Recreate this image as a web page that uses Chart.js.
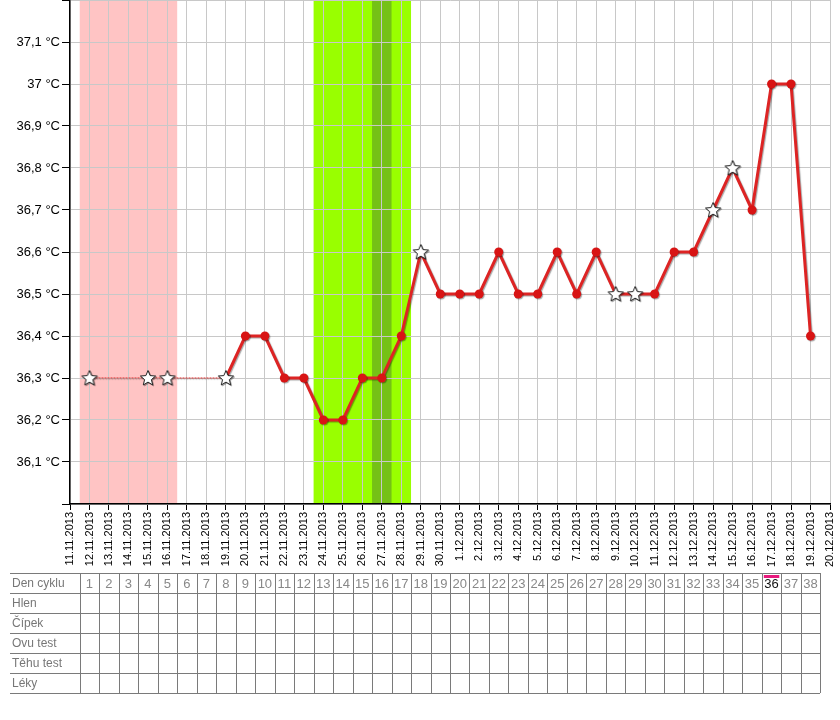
<!DOCTYPE html>
<html>
<head>
<meta charset="utf-8">
<script src="https://cdn.jsdelivr.net/npm/chart.js@4.4.0/dist/chart.umd.min.js"></script>
<style>
    body { margin: 0; background: #fff; }
    #wrap { position: relative; width: 840px; height: 720px; }
</style>
</head>
<body>
<div id="wrap"><canvas id="bbt" width="840" height="720"></canvas></div>
<script>
// dates on the x axis (one column per day)
const dates = [
    '11.11.2013', '12.11.2013', '13.11.2013', '14.11.2013', '15.11.2013', '16.11.2013',
    '17.11.2013', '18.11.2013', '19.11.2013', '20.11.2013', '21.11.2013', '22.11.2013',
    '23.11.2013', '24.11.2013', '25.11.2013', '26.11.2013', '27.11.2013', '28.11.2013',
    '29.11.2013', '30.11.2013', '1.12.2013', '2.12.2013', '3.12.2013', '4.12.2013',
    '5.12.2013', '6.12.2013', '7.12.2013', '8.12.2013', '9.12.2013', '10.12.2013',
    '11.12.2013', '12.12.2013', '13.12.2013', '14.12.2013', '15.12.2013', '16.12.2013',
    '17.12.2013', '18.12.2013', '19.12.2013', '20.12.2013'
];

// measured temperatures (null = no measurement)
const temps = [
    null, 36.3, null, null, 36.3, 36.3, null, null, 36.3, 36.4,
    36.4, 36.3, 36.3, 36.2, 36.2, 36.3, 36.3, 36.4, 36.6, 36.5,
    36.5, 36.5, 36.6, 36.5, 36.5, 36.6, 36.5, 36.6, 36.5, 36.5,
    36.5, 36.6, 36.6, 36.7, 36.8, 36.7, 37.0, 37.0, 36.4, null
];

// days marked with a star
const starDays = ['12.11.2013', '15.11.2013', '16.11.2013', '19.11.2013', '29.11.2013',
    '9.12.2013', '10.12.2013', '14.12.2013', '15.12.2013'];

// background bands
const periodRange = ['12.11.2013', '16.11.2013'];
const fertileRange = ['24.11.2013', '28.11.2013'];
const ovulationDay = '27.11.2013';

// table under the chart
const rowNames = ['Den cyklu', 'Hlen', 'Čípek', 'Ovu test', 'Těhu test', 'Léky'];
const cycleDays = [1, 2, 3, 4, 5, 6, 7, 8, 9, 10, 11, 12, 13, 14, 15, 16, 17, 18, 19,
    20, 21, 22, 23, 24, 25, 26, 27, 28, 29, 30, 31, 32, 33, 34, 35, 36, 37, 38];
const firstCycleDate = '12.11.2013';
const todayCycleDay = 36;

// star marker image
function makeStar() {
    const c = document.createElement('canvas');
    c.width = 20; c.height = 20;
    const g = c.getContext('2d');
    g.beginPath();
    for (let i = 0; i < 10; i++) {
        const r = i % 2 === 0 ? 8 : 3.6;
        const a = -Math.PI / 2 + i * Math.PI / 5;
        const px = 10 + r * Math.cos(a), py = 10.5 + r * Math.sin(a);
        if (i === 0) g.moveTo(px, py); else g.lineTo(px, py);
    }
    g.closePath();
    g.fillStyle = '#fff';
    g.fill();
    g.lineWidth = 1;
    g.strokeStyle = '#222';
    g.stroke();
    return c;
}
const starImg = makeStar();

const pointStyles = dates.map(d => starDays.includes(d) ? starImg : 'circle');
const firstSolid = dates.indexOf('19.11.2013');

const bandsPlugin = {
    id: 'bands',
    beforeDraw(chart) {
        const { ctx, chartArea: a, scales: { x } } = chart;
        const half = (x.getPixelForValue(1) - x.getPixelForValue(0)) / 2;
        const band = (from, to, color) => {
            const x0 = x.getPixelForValue(dates.indexOf(from)) - half;
            const x1 = x.getPixelForValue(dates.indexOf(to)) + half;
            ctx.fillStyle = color;
            ctx.fillRect(x0, a.top, x1 - x0, a.bottom - a.top);
        };
        ctx.save();
        band(periodRange[0], periodRange[1], '#ffc4c4');
        band(fertileRange[0], fertileRange[1], '#99ff00');
        band(ovulationDay, ovulationDay, '#75c116');
        ctx.restore();
    }
};

const shadowPlugin = {
    id: 'lineShadow',
    beforeDatasetsDraw(chart) {
        const ctx = chart.ctx;
        ctx.save();
        ctx.shadowColor = 'rgba(0,0,0,0.35)';
        ctx.shadowOffsetX = 1;
        ctx.shadowOffsetY = 1;
        ctx.shadowBlur = 1;
    },
    afterDatasetsDraw(chart) {
        chart.ctx.restore();
    }
};

const tablePlugin = {
    id: 'cycleTable',
    afterDraw(chart) {
        const { ctx, scales: { x } } = chart;
        const half = (x.getPixelForValue(1) - x.getPixelForValue(0)) / 2;
        const top = 573, rowH = 20, left = 10;
        const start = dates.indexOf(firstCycleDate);
        const colX = i => x.getPixelForValue(start + i);
        const right = Math.round(colX(cycleDays.length - 1) + half);
        const bottom = top + rowH * rowNames.length;
        ctx.save();
        ctx.strokeStyle = '#7a7a7a';
        ctx.lineWidth = 1;
        ctx.beginPath();
        for (let r = 0; r <= rowNames.length; r++) {
            const y = top + r * rowH + 0.5;
            ctx.moveTo(left, y);
            ctx.lineTo(right, y);
        }
        for (let i = 0; i <= cycleDays.length; i++) {
            const xx = Math.round(colX(i) - half) + 0.5;
            ctx.moveTo(xx, top);
            ctx.lineTo(xx, bottom);
        }
        ctx.stroke();

        ctx.font = '12px "Liberation Sans", Arial, sans-serif';
        ctx.textBaseline = 'middle';
        ctx.fillStyle = '#777';
        ctx.textAlign = 'left';
        rowNames.forEach((n, r) => ctx.fillText(n, left + 2, top + r * rowH + rowH / 2 + 1));

        ctx.font = '13px "Liberation Sans", Arial, sans-serif';
        ctx.textAlign = 'center';
        cycleDays.forEach((d, i) => {
            const cx = colX(i);
            if (d === todayCycleDay) {
                ctx.fillStyle = '#e8197d';
                ctx.fillRect(cx - half + 2, top + 2, half * 2 - 4, 3);
                ctx.fillStyle = '#111';
            } else {
                ctx.fillStyle = '#888';
            }
            ctx.fillText(String(d), cx, top + rowH / 2 + 1);
        });
        ctx.restore();
    }
};

new Chart(document.getElementById('bbt'), {
    type: 'line',
    data: {
        labels: dates,
        datasets: [{
            data: temps,
            spanGaps: true,
            borderColor: '#dd2424',
            borderWidth: 3,
            pointStyle: pointStyles,
            pointRadius: 4.5,
            pointBackgroundColor: '#d81414',
            pointBorderColor: '#d81414',
            pointBorderWidth: 0,
            segment: {
                borderWidth: c => c.p0DataIndex < firstSolid ? 1 : undefined,
                borderColor: c => c.p0DataIndex < firstSolid ? '#e02a2a' : undefined,
                borderDash: c => c.p0DataIndex < firstSolid ? [2, 1] : undefined
            }
        }]
    },
    options: {
        responsive: false,
        animation: false,
        devicePixelRatio: 1,
        layout: { autoPadding: false, padding: { left: 0, right: 10, top: 0, bottom: 150 } },
        plugins: {
            legend: { display: false },
            tooltip: { enabled: false }
        },
        scales: {
            x: {
                offset: false,
                grid: { color: '#c8c8c8', tickColor: '#000', tickLength: 6 },
                border: { color: '#000', width: 1.5 },
                ticks: {
                    autoSkip: false,
                    minRotation: 90,
                    maxRotation: 90,
                    padding: 2,
                    color: '#000',
                    font: { family: '"Liberation Sans", Arial, sans-serif', size: 11 }
                },
                afterFit(s) {
                    s.height = 66;
                    s.paddingLeft = 0;
                    s.paddingRight = 0;
                }
            },
            y: {
                min: 36.0,
                max: 37.2,
                grid: { color: '#c8c8c8', tickColor: '#000', tickLength: 8 },
                border: { color: '#000', width: 1.5 },
                ticks: {
                    stepSize: 0.1,
                    padding: 2,
                    color: '#000',
                    font: { family: '"Liberation Sans", Arial, sans-serif', size: 13 },
                    callback: v => {
                        const t = Math.round(v * 10) / 10;
                        if (t <= 36.0 || t >= 37.2) return '';
                        return String(t).replace('.', ',') + ' °C';
                    }
                },
                afterFit(s) {
                    s.width = 70;
                    s.paddingTop = 0;
                    s.paddingBottom = 0;
                }
            }
        }
    },
    plugins: [bandsPlugin, shadowPlugin, tablePlugin]
});
</script>
</body>
</html>
